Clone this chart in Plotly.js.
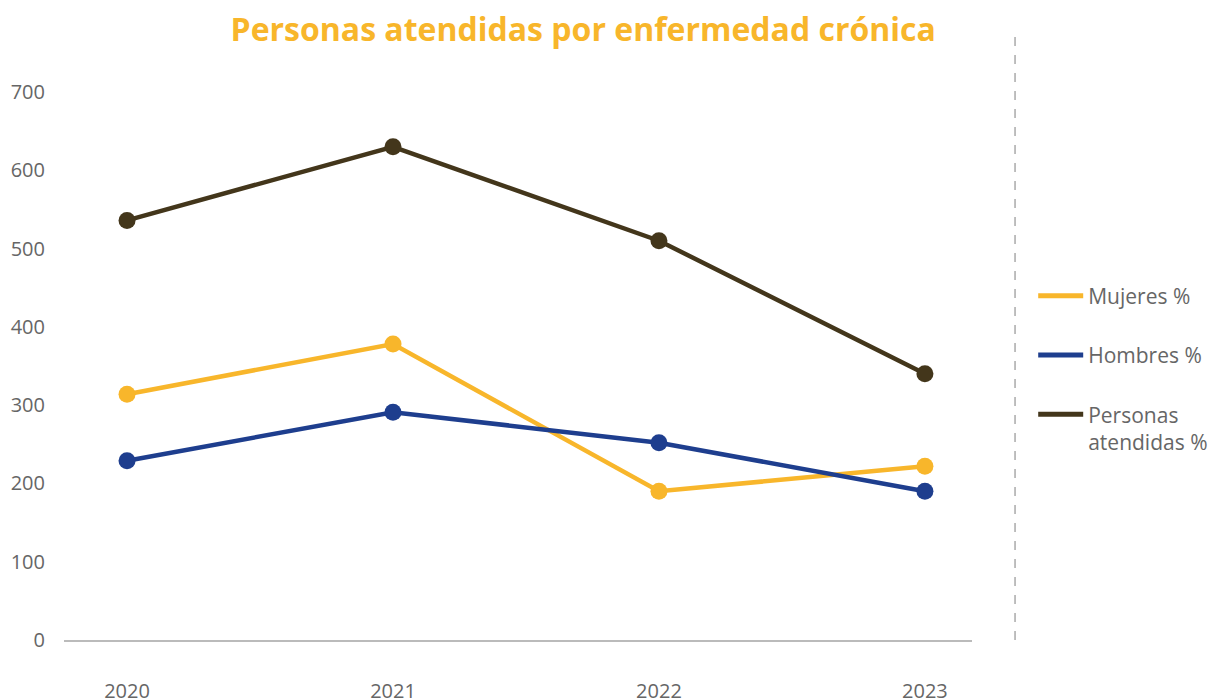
<!DOCTYPE html>
<html>
<head>
<meta charset="utf-8">
<script src="https://cdn.plot.ly/plotly-3.0.1.min.js"></script>
<style>html,body{margin:0;padding:0;background:#fff;}#chart{width:1215px;height:700px;}</style>
</head>
<body>
<div id="chart"></div>
<script>
const years = ['2020', '2021', '2022', '2023'];
const mujeres = [314, 378, 190, 222];
const hombres = [229, 291, 252, 190];
const personas = [536, 630, 510, 340];
const seriesNames = ['Mujeres %', 'Hombres %', 'Personas<br>atendidas %'];
const seriesColors = ['#F8B62B', '#1E3E8E', '#43361B'];
const seriesValues = [mujeres, hombres, personas];

const traces = [];
seriesValues.forEach((vals, i) => {
  traces.push({
    type: 'scatter',
    mode: 'lines+markers',
    x: years,
    y: vals,
    name: seriesNames[i],
    showlegend: false,
    line: {color: seriesColors[i], width: 4.5},
    marker: {color: seriesColors[i], size: 17},
    cliponaxis: false
  });
});
// legend entries (line only, as in the reference)
seriesValues.forEach((vals, i) => {
  traces.push({
    type: 'scatter',
    mode: 'lines',
    x: [null],
    y: [null],
    name: seriesNames[i],
    legendgroup: 'g' + i,
    line: {color: seriesColors[i], width: 5}
  });
});

const layout = {
  width: 1215,
  height: 700,
  paper_bgcolor: '#fff',
  plot_bgcolor: '#fff',
  font: {family: 'Open Sans, Noto Sans, sans-serif', color: '#666666', size: 20},
  margin: {l: 64, r: 243, t: 92, b: 60, autoexpand: false},
  title: {
    text: '<b>Personas atendidas por enfermedad crónica</b>',
    font: {family: 'Open Sans, sans-serif', size: 32, color: '#F8B62B'},
    xref: 'container', x: 0.48, xanchor: 'center',
    yref: 'container', y: 0.957, yanchor: 'middle'
  },
  xaxis: {
    type: 'category',
    range: [-0.237, 3.177],
    showgrid: false,
    zeroline: false,
    showline: true,
    linecolor: '#BBBBBB',
    linewidth: 2,
    ticks: '',
    ticklabelstandoff: 32,
    tickfont: {size: 20, color: '#666666'}
  },
  yaxis: {
    range: [0, 700],
    dtick: 100,
    showgrid: false,
    zeroline: false,
    showline: false,
    ticks: '',
    ticklabelstandoff: 18,
    tickfont: {size: 20, color: '#666666'}
  },
  showlegend: true,
  legend: {
    x: 1.0674, xanchor: 'left',
    y: 0.665, yanchor: 'top',
    font: {size: 21, color: '#666666'},
    itemwidth: 45,
    tracegroupgap: 29,
    valign: 'top',
    traceorder: 'grouped',
    bgcolor: 'rgba(0,0,0,0)'
  },
  shapes: [{
    type: 'line',
    xref: 'paper', yref: 'paper',
    x0: 1.0474, x1: 1.0474,
    y0: 0, y1: 1.113,
    line: {color: '#AAAAAA', width: 1.5, dash: 'dash'}
  }]
};

Plotly.newPlot('chart', traces, layout, {displayModeBar: false, staticPlot: true});
</script>
</body>
</html>
